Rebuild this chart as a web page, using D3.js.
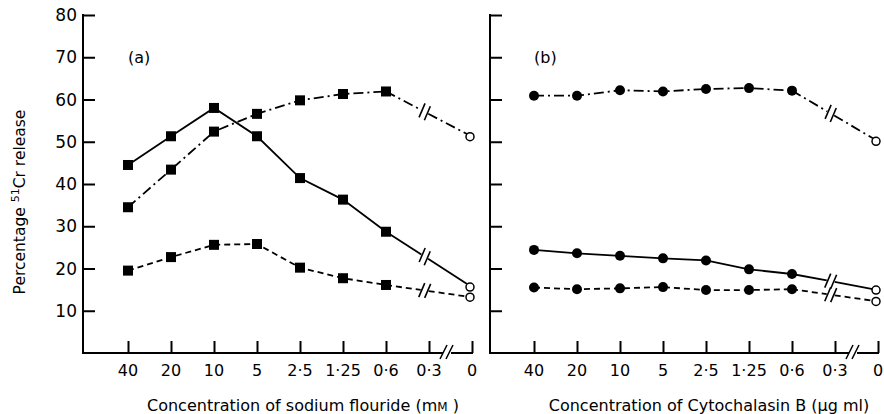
<!DOCTYPE html>
<html>
<head>
<meta charset="utf-8">
<script src="https://cdn.jsdelivr.net/npm/d3@7"></script>
<style>
  body { margin: 0; background: white; }
  text { font-family: "DejaVu Sans", sans-serif; fill: #000; }
</style>
</head>
<body>
<div id="vis"></div>
<script>
// concentrations along the x axis (0.3 has no point, it is the break)
var concentrations = ["40", "20", "10", "5", "2·5", "1·25", "0·6", "0·3", "0"];
var yTicks = [10, 20, 30, 40, 50, 60, 70, 80];

// panel (a) sodium fluoride
var naSolid   = [44.5, 51.3, 58.0, 51.3, 41.4, 36.3, 28.7, null, 15.6];
var naDashDot = [34.5, 43.4, 52.4, 56.6, 59.8, 61.3, 61.9, null, 51.2];
var naDashed  = [19.5, 22.7, 25.6, 25.8, 20.2, 17.7, 16.1, null, 13.2];

// panel (b) cytochalasin B
var cbDashDot = [60.9, 60.9, 62.2, 61.9, 62.5, 62.7, 62.1, null, 50.1];
var cbSolid   = [24.4, 23.6, 23.0, 22.4, 21.9, 19.8, 18.7, null, 14.9];
var cbDashed  = [15.5, 15.1, 15.3, 15.6, 14.9, 14.9, 15.1, null, 12.2];

var width = 884, height = 414;

var svg = d3.select('#vis')
    .append('svg')
    .attr('width', width)
    .attr('height', height);

var y_scale = d3.scaleLinear().domain([0, 80]).range([353, 15]);

var dashes = { solid: null, dashed: '6,4', dashdot: '10,4,2,4' };

function panel(axisX, xRange, series, marker, label, xTitle) {
    var x_scale = d3.scalePoint().domain(concentrations).range(xRange);
    var g = svg.append('g');
    var x0 = x_scale('0');
    var xBreak = x_scale('0·3') + 18;

    // y axis: line with inward ticks
    var yAxis = d3.axisRight(y_scale).tickValues(yTicks).tickSize(12).tickFormat('');
    var ya = g.append('g').attr('transform', 'translate(' + axisX + ',0)').call(yAxis);
    ya.select('.domain').remove();
    ya.selectAll('line').attr('stroke', '#000').attr('stroke-width', 2);
    g.append('line').attr('x1', axisX).attr('x2', axisX)
        .attr('y1', y_scale(80) - 1).attr('y2', y_scale(0) + 1)
        .attr('stroke', '#000').attr('stroke-width', 2);

    // x axis: ticks pointing up, with a break before 0
    var xAxis = d3.axisTop(x_scale).tickSize(12).tickFormat('');
    var xa = g.append('g').attr('transform', 'translate(0,' + y_scale(0) + ')').call(xAxis);
    xa.select('.domain').remove();
    xa.selectAll('line').attr('stroke', '#000').attr('stroke-width', 2);
    g.append('line').attr('x1', axisX).attr('x2', xBreak - 4)
        .attr('y1', y_scale(0)).attr('y2', y_scale(0))
        .attr('stroke', '#000').attr('stroke-width', 2);
    g.append('line').attr('x1', xBreak + 4).attr('x2', x0 + 1)
        .attr('y1', y_scale(0)).attr('y2', y_scale(0))
        .attr('stroke', '#000').attr('stroke-width', 2);
    [-3, 3].forEach(function(o) {
        g.append('line')
            .attr('x1', xBreak + o - 4).attr('y1', y_scale(0) + 6)
            .attr('x2', xBreak + o + 3).attr('y2', y_scale(0) - 8)
            .attr('stroke', '#000').attr('stroke-width', 1.6);
    });

    g.selectAll('text.xtick')
        .data(concentrations)
        .enter()
        .append('text')
        .attr('class', 'xtick')
        .attr('x', function(d) { return x_scale(d); })
        .attr('y', 376)
        .attr('text-anchor', 'middle')
        .attr('font-size', 16)
        .text(function(d) { return d; });

    g.append('text').attr('x', xRange[0]).attr('y', 63)
        .attr('font-size', 16).text(label);

    var xt = g.append('text').attr('x', (xRange[0] + x0) / 2 + 3).attr('y', 411)
        .attr('text-anchor', 'middle').attr('font-size', 16);
    xTitle(xt);

    series.forEach(function(s) {
        var pts = s.values.map(function(v, i) {
            return v == null ? null : [x_scale(concentrations[i]), y_scale(v)];
        });
        var main = pts.slice(0, 7);
        g.append('path')
            .attr('d', d3.line()(main))
            .attr('fill', 'none')
            .attr('stroke', '#000')
            .attr('stroke-width', 1.8)
            .attr('stroke-dasharray', dashes[s.style]);

        // last segment with a "//" break
        var p = main[6], q = pts[8];
        var dx = q[0] - p[0], dy = q[1] - p[1];
        var len = Math.sqrt(dx * dx + dy * dy);
        var ux = dx / len, uy = dy / len;
        var t = 0.45 * len;
        var c = [p[0] + ux * t, p[1] + uy * t];
        g.append('path')
            .attr('d', d3.line()([p, [c[0] - ux * 4, c[1] - uy * 4]]))
            .attr('stroke', '#000').attr('stroke-width', 1.8)
            .attr('stroke-dasharray', dashes[s.style]);
        g.append('path')
            .attr('d', d3.line()([[c[0] + ux * 4, c[1] + uy * 4], [q[0] - ux * 4, q[1] - uy * 4]]))
            .attr('stroke', '#000').attr('stroke-width', 1.8)
            .attr('stroke-dasharray', dashes[s.style]);
        [-3, 3].forEach(function(o) {
            g.append('line')
                .attr('x1', c[0] + ux * o - 3).attr('y1', c[1] + uy * o + 7)
                .attr('x2', c[0] + ux * o + 3).attr('y2', c[1] + uy * o - 7)
                .attr('stroke', '#000').attr('stroke-width', 1.6);
        });

        if (marker == 'square') {
            g.selectAll(null).data(main).enter().append('rect')
                .attr('x', function(d) { return d[0] - 5; })
                .attr('y', function(d) { return d[1] - 5; })
                .attr('width', 10).attr('height', 10)
                .attr('fill', '#000');
        } else {
            g.selectAll(null).data(main).enter().append('circle')
                .attr('cx', function(d) { return d[0]; })
                .attr('cy', function(d) { return d[1]; })
                .attr('r', 5)
                .attr('fill', '#000');
        }
        g.append('circle').attr('cx', q[0] - 2).attr('cy', q[1]).attr('r', 4)
            .attr('fill', 'white').attr('stroke', '#000').attr('stroke-width', 1.5);
    });
}

panel(83, [128, 472], [
    { values: naSolid, style: 'solid' },
    { values: naDashDot, style: 'dashdot' },
    { values: naDashed, style: 'dashed' }
], 'square', '(a)', function(t) {
    t.append('tspan').text('Concentration of sodium flouride (m');
    t.append('tspan').attr('font-size', 12).text('M');
    t.append('tspan').text(' )');
});

panel(490, [534, 878], [
    { values: cbDashDot, style: 'dashdot' },
    { values: cbSolid, style: 'solid' },
    { values: cbDashed, style: 'dashed' }
], 'circle', '(b)', function(t) {
    t.text('Concentration of Cytochalasin B (μg ml)');
});

// y axis labels on the left panel
svg.selectAll('text.ytick')
    .data(yTicks)
    .enter()
    .append('text')
    .attr('class', 'ytick')
    .attr('x', 77)
    .attr('y', function(d) { return y_scale(d) + 6; })
    .attr('text-anchor', 'end')
    .attr('font-size', 17)
    .text(function(d) { return d; });

var yl = svg.append('text')
    .attr('transform', 'translate(25,202)rotate(-90)')
    .attr('text-anchor', 'middle')
    .attr('font-size', 15.5);
yl.append('tspan').text('Percentage ');
yl.append('tspan').attr('font-size', 11).attr('dy', -6).text('51');
yl.append('tspan').attr('dy', 6).text('Cr release');
</script>
</body>
</html>
